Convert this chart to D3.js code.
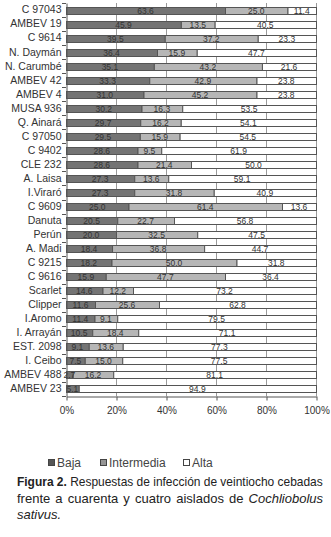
<!DOCTYPE html>
<html>
<head>
<meta charset="utf-8">
<script src="https://cdn.jsdelivr.net/npm/d3@7/dist/d3.min.js"></script>
<style>
  html, body { margin: 0; padding: 0; background: #fff; }
  svg { display: block; }
</style>
</head>
<body>
<svg id="chart" width="331" height="537"></svg>
<script>
const categories = ["C 97043","AMBEV 19","C 9614","N. Daymán","N. Carumbé","AMBEV 42","AMBEV 4","MUSA 936","Q. Ainará","C 97050","C 9402","CLE 232","A. Laisa","I.Viraró","C 9609","Danuta","Perún","A. Madi","C 9215","C 9616","Scarlet","Clipper","I.Aromo","I. Arrayán","EST. 2098","I. Ceibo","AMBEV 488","AMBEV 23"];
const baja =       [63.6,45.9,39.5,36.4,35.1,33.3,31.0,30.2,29.7,29.5,28.6,28.6,27.3,27.3,25.0,20.5,20.0,18.4,18.2,15.9,14.6,11.6,11.4,10.5,9.1,7.5,2.7,5.1];
const intermedia = [25.0,13.5,37.2,15.9,43.2,42.9,45.2,16.3,16.2,15.9,9.5,21.4,13.6,31.8,61.4,22.7,32.5,36.8,50.0,47.7,12.2,25.6,9.1,18.4,13.6,15.0,16.2,0];
const alta =       [11.4,40.5,23.3,47.7,21.6,23.8,23.8,53.5,54.1,54.5,61.9,50.0,59.1,40.9,13.6,56.8,47.5,44.7,31.8,36.4,73.2,62.8,79.5,71.1,77.3,77.5,81.1,94.9];
const seriesNames = ["Baja","Intermedia","Alta"];
const xTicks = [0,20,40,60,80,100];

const colors = {"Baja":"#747474","Intermedia":"#b6b6b6","Alta":"#ffffff"};
const legendColors = {"Baja":"#555555","Intermedia":"#959595","Alta":"#ffffff"};

const svg = d3.select("#chart");
const mLeft = 66, mRight = 316, mTop = 3, mBottom = 396;

const x = d3.scaleLinear().domain([0,100]).range([mLeft,mRight]);
const y = d3.scaleBand().domain(categories).range([mTop,mBottom]).paddingInner(0.5).paddingOuter(0.25);
const yb = d3.scaleBand().domain(categories).range([mTop,mBottom]);

const rows = categories.map((c,i)=>({cat:c, Baja:baja[i], Intermedia:intermedia[i], Alta:alta[i]}));
const stack = d3.stack().keys(seriesNames).offset(d3.stackOffsetExpand);
const stacked = stack(rows);

// gridlines
svg.append("g").selectAll("line").data(xTicks.slice(1)).join("line")
  .attr("x1",d=>x(d)+0.5).attr("x2",d=>x(d)+0.5)
  .attr("y1",mTop).attr("y2",mBottom)
  .attr("stroke","#9a9a9a").attr("stroke-width",1);

// bars
const g = svg.append("g");
stacked.forEach(s=>{
  g.append("g").selectAll("rect").data(s).join("rect")
    .attr("x",d=>x(d[0]*100)+0.5)
    .attr("width",d=>Math.max(0,x(d[1]*100)-x(d[0]*100)))
    .attr("y",d=>Math.round(y(d.data.cat))+0.5)
    .attr("height",7)
    .attr("fill",colors[s.key])
    .attr("stroke",d=> (d[1]-d[0])>0 ? "#555" : "none")
    .attr("stroke-width",1);
});

// value labels
stacked.forEach(s=>{
  g.append("g").selectAll("text").data(s.filter(d=>(d[1]-d[0])>0)).join("text")
    .attr("x",d=>x((d[0]+d[1])/2*100))
    .attr("y",d=>Math.round(y(d.data.cat))+4)
    .attr("dy","0.35em")
    .attr("text-anchor","middle")
    .attr("font-family","Liberation Sans, Arial, sans-serif")
    .attr("font-size","8.5px")
    .attr("fill","#333")
    .text(d=>d.data[s.key].toFixed(1));
});

// y axis
const yAxis = d3.axisLeft(yb).tickSize(0).tickPadding(5);
const ya = svg.append("g").attr("transform",`translate(${mLeft+0.5},0)`).call(yAxis);
ya.select(".domain").attr("stroke","#555");
ya.selectAll("text").attr("font-family","Liberation Sans, Arial, sans-serif").attr("font-size","10.5px").attr("fill","#333");
// tick marks at band boundaries
svg.append("g").selectAll("line").data(categories.concat(["__end"])).join("line")
  .attr("x1",mLeft-4).attr("x2",mLeft)
  .attr("y1",(d,i)=> Math.round(mTop + i*yb.step())+0.5)
  .attr("y2",(d,i)=> Math.round(mTop + i*yb.step())+0.5)
  .attr("stroke","#555");

// x axis
const xAxis = d3.axisBottom(x).tickValues(xTicks).tickFormat(d=>d+"%").tickSizeInner(4).tickSizeOuter(0).tickPadding(6);
const xa = svg.append("g").attr("transform",`translate(0.5,${mBottom+0.5})`).call(xAxis);
xa.select(".domain").attr("stroke","#555");
xa.selectAll(".tick line").attr("stroke","#555");
xa.selectAll("text").attr("font-family","Liberation Sans, Arial, sans-serif").attr("font-size","10px").attr("fill","#333");

// legend
const legendPos = [48,100,183];
const lg = svg.append("g");
seriesNames.forEach((n,i)=>{
  lg.append("rect").attr("x",legendPos[i]+0.5).attr("y",459.5).attr("width",6).attr("height",6)
    .attr("fill",legendColors[n]).attr("stroke","#444");
  lg.append("text").attr("x",legendPos[i]+9).attr("y",467)
    .attr("font-family","Liberation Sans, Arial, sans-serif").attr("font-size","12px").attr("fill","#444").text(n);
});

// caption
const capX = 17, capW = 306;
const cap = svg.append("g").attr("font-family","Liberation Sans Narrow, Arial Narrow, Liberation Sans, sans-serif").attr("font-size","13px").attr("fill","#222");
function justify(t, nSpaces){
  const w = t.node().getComputedTextLength();
  if (w < capW) {
    t.attr("word-spacing", ((capW - w)/nSpaces).toFixed(2));
  } else if (w > capW) {
    t.attr("transform", `translate(${capX},0) scale(${capW/w},1) translate(${-capX},0)`);
  }
}
const l1 = cap.append("text").attr("x",capX).attr("y",486.5);
l1.append("tspan").attr("font-weight","bold").text("Figura 2.");
l1.append("tspan").text(" Respuestas de infección de veintiocho cebadas");
justify(l1, 7);
const l2 = cap.append("text").attr("x",capX).attr("y",502.5);
l2.append("tspan").text("frente a cuarenta y cuatro aislados de ");
l2.append("tspan").attr("font-style","italic").text("Cochliobolus");
justify(l2, 7);
cap.append("text").attr("x",capX).attr("y",518.5).attr("font-style","italic").text("sativus.");
</script>
</body>
</html>
